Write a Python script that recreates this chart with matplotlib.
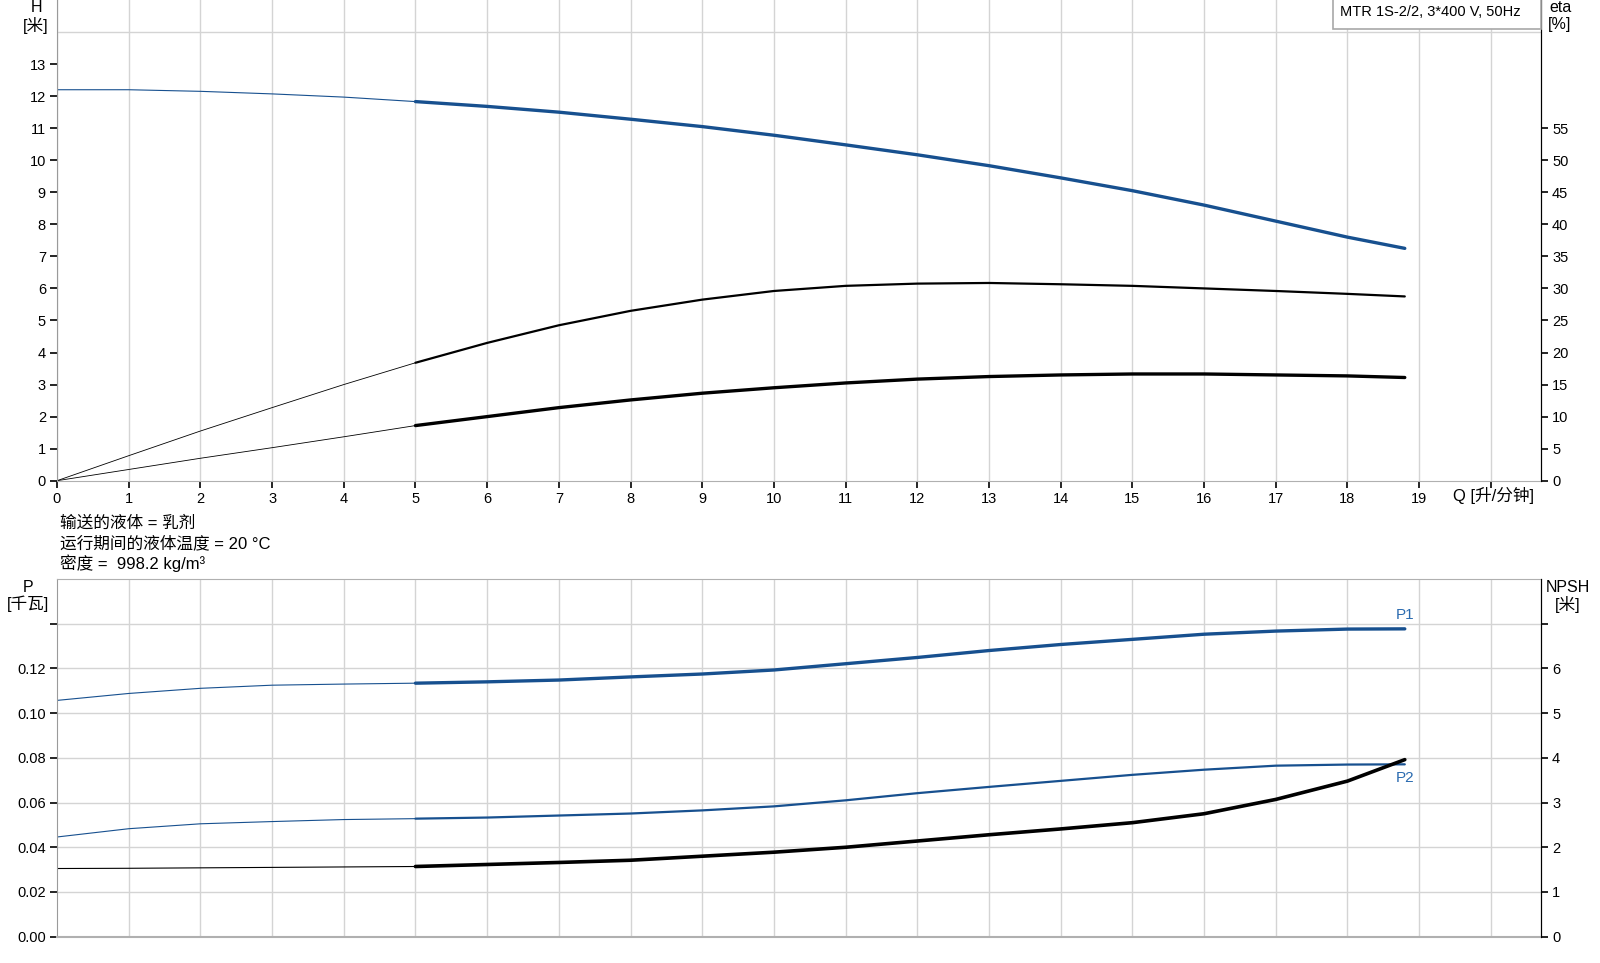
import numpy as np
import matplotlib
matplotlib.use("Agg")
import matplotlib.pyplot as plt
from matplotlib.patches import Rectangle

plt.rcParams['font.family'] = ['Liberation Sans', 'Noto Sans CJK SC', 'DejaVu Sans']
plt.rcParams['font.size'] = 10.5

# flow points [l/min]
q = [0, 1, 2, 3, 4, 5, 6, 7, 8, 9, 10, 11, 12, 13, 14, 15, 16, 17, 18, 18.8]

# head [m]
head = [12.2, 12.2, 12.15, 12.07, 11.97, 11.83, 11.68, 11.5, 11.28, 11.05,
        10.78, 10.48, 10.17, 9.83, 9.45, 9.05, 8.6, 8.1, 7.6, 7.25]
# pump efficiency [%]
eta_pump = [0, 3.9, 7.75, 11.4, 15.0, 18.4, 21.5, 24.25, 26.5, 28.25,
            29.6, 30.4, 30.75, 30.85, 30.65, 30.4, 30.0, 29.6, 29.15, 28.75]
# total efficiency [%]
eta_total = [0, 1.75, 3.5, 5.15, 6.85, 8.6, 10.0, 11.4, 12.6, 13.65,
             14.5, 15.25, 15.85, 16.25, 16.5, 16.65, 16.65, 16.5, 16.35, 16.1]

# power [kW]
p1 = [0.1057, 0.1088, 0.1111, 0.1125, 0.113, 0.1134, 0.1140, 0.1148, 0.1162, 0.1175,
      0.1193, 0.1221, 0.1249, 0.128, 0.1307, 0.133, 0.1353, 0.1367, 0.1376, 0.1377]
p2 = [0.0446, 0.0483, 0.0505, 0.0515, 0.0524, 0.0528, 0.0533, 0.0542, 0.0551, 0.0565,
      0.0583, 0.061, 0.0642, 0.067, 0.0697, 0.0724, 0.0747, 0.0765, 0.077, 0.0771]
# NPSH [m]
npsh = [1.525, 1.53, 1.54, 1.55, 1.56, 1.57, 1.615, 1.66, 1.71, 1.8,
        1.89, 2.0, 2.14, 2.28, 2.41, 2.55, 2.75, 3.07, 3.48, 3.96]

info_lines = ["输送的液体 = 乳剂", "运行期间的液体温度 = 20 °C", "密度 =  998.2 kg/m³"]
title_box = "MTR 1S-2/2, 3*400 V, 50Hz"

blue = '#17508f'
label_blue = '#2a6bb0'
grid_c = '#d4d4d4'
spine_c = '#9a9a9a'
q = np.array(q)
split = 5
lab_fs = 12


def two_part(ax, x, y, color, lw_thin, lw_thick):
    y = np.asarray(y)
    m1 = x <= split
    m2 = x >= split
    ax.plot(x[m1], y[m1], color=color, lw=lw_thin, solid_capstyle='butt')
    ax.plot(x[m2], y[m2], color=color, lw=lw_thick, solid_capstyle='round')


fig = plt.figure(figsize=(16, 9.63), dpi=100)
W, H = 1600, 963
x0, x1 = 57 / W, 1541 / W

# ---------- top plot ----------
ax = fig.add_axes([x0, 1 - 480.7 / H, x1 - x0, 480.7 / H])
ax.set_xlim(0, 20.7)
ax.set_ylim(0, 15)
ax.set_xticks(range(0, 21))
ax.set_xticklabels([str(i) for i in range(20)] + [''])
ax.set_yticks(range(0, 14))
ax.set_yticks(range(0, 15), minor=True)
ax.grid(True, which='major', axis='x', color=grid_c, lw=1)
ax.grid(True, which='minor', axis='y', color=grid_c, lw=1)
ax.tick_params(axis='y', which='minor', length=0)
ax.tick_params(axis='both', which='major', length=5, width=1.2, color='black', pad=3)
ax.spines['top'].set_visible(False)
ax.spines['left'].set_color(spine_c)
ax.spines['bottom'].set_color('#b0b0b0')
ax.spines['right'].set_color('black')
ax.set_axisbelow(True)

two_part(ax, q, head, blue, 0.8, 2.4)
two_part(ax, q, np.array(eta_pump) / 5, 'black', 0.6, 1.6)
two_part(ax, q, np.array(eta_total) / 5, 'black', 0.6, 2.4)

ax2 = ax.twinx()
ax2.set_ylim(0, 75)
ax2.set_yticks(range(0, 60, 5))
ax2.tick_params(axis='y', length=5, width=1.2, color='black', pad=3)
for s in ['top', 'left', 'bottom']:
    ax2.spines[s].set_visible(False)
ax2.spines['right'].set_color('black')

fig.text(36 / W, 1 - 8 / H, "H", ha='center', va='center', fontsize=11.5)
fig.text(36 / W, 1 - 25 / H, "[米]", ha='center', va='center', fontsize=lab_fs)
fig.text(1560 / W, 1 - 8 / H, "eta", ha='center', va='center', fontsize=11.5)
fig.text(1560 / W, 1 - 25 / H, "[%]", ha='center', va='center', fontsize=11.5)
fig.text(1453 / W, 1 - 495 / H, "Q [升/分钟]", ha='left', va='center', fontsize=lab_fs)

# model box
fig.patches.append(Rectangle((1333 / W, 1 - 29 / H), 208 / W, 40 / H,
                             transform=fig.transFigure, facecolor='white',
                             edgecolor='#a8a8a8', lw=1.2, zorder=5))
fig.text(1340 / W, 1 - 12 / H, title_box, ha='left', va='center', zorder=6)

for i, line in enumerate(info_lines):
    fig.text(60 / W, 1 - (523 + 20 * i) / H, line, ha='left', va='center', fontsize=lab_fs)

# ---------- bottom plot ----------
bx = fig.add_axes([x0, 1 - 936.7 / H, x1 - x0, (936.7 - 579) / H])
bx.set_xlim(0, 20.7)
bx.set_ylim(0, 0.16)
bx.set_xticks(range(1, 21))
bx.set_xticklabels([])
bx.tick_params(axis='x', length=0)
bx.set_yticks(np.arange(0, 0.15, 0.02))
bx.set_yticklabels(['%.2f' % v for v in np.arange(0, 0.13, 0.02)] + [''])
bx.tick_params(axis='y', length=5, width=1.2, color='black', pad=3)
bx.grid(True, color=grid_c, lw=1)
bx.set_axisbelow(True)
bx.spines['left'].set_color(spine_c)
bx.spines['bottom'].set_color('#b0b0b0')
bx.spines['bottom'].set_linewidth(1.5)
bx.spines['top'].set_color('#b0b0b0')
bx.spines['right'].set_color('black')

two_part(bx, q, p1, blue, 0.8, 2.4)
two_part(bx, q, p2, blue, 0.8, 1.6)
two_part(bx, q, np.array(npsh) * 0.02, 'black', 0.8, 2.6)

bx2 = bx.twinx()
bx2.set_ylim(0, 8)
bx2.set_yticks(range(0, 8))
bx2.set_yticklabels([str(i) for i in range(7)] + [''])
bx2.tick_params(axis='y', length=5, width=1.2, color='black', pad=3)
for s in ['top', 'left', 'bottom']:
    bx2.spines[s].set_visible(False)
bx2.spines['right'].set_color('black')

bx.text(q[-1], p1[-1] + 0.003, "P1", color=label_blue, ha='center', va='bottom', fontsize=11)
bx.text(q[-1], p2[-1] - 0.003, "P2", color=label_blue, ha='center', va='top', fontsize=11)

fig.text(28 / W, 1 - 587 / H, "P", ha='center', va='center', fontsize=11.5)
fig.text(28 / W, 1 - 604 / H, "[千瓦]", ha='center', va='center', fontsize=lab_fs)
fig.text(1568 / W, 1 - 587 / H, "NPSH", ha='center', va='center', fontsize=11.5)
fig.text(1568 / W, 1 - 604 / H, "[米]", ha='center', va='center', fontsize=lab_fs)

fig.savefig("out.png", dpi=100)
